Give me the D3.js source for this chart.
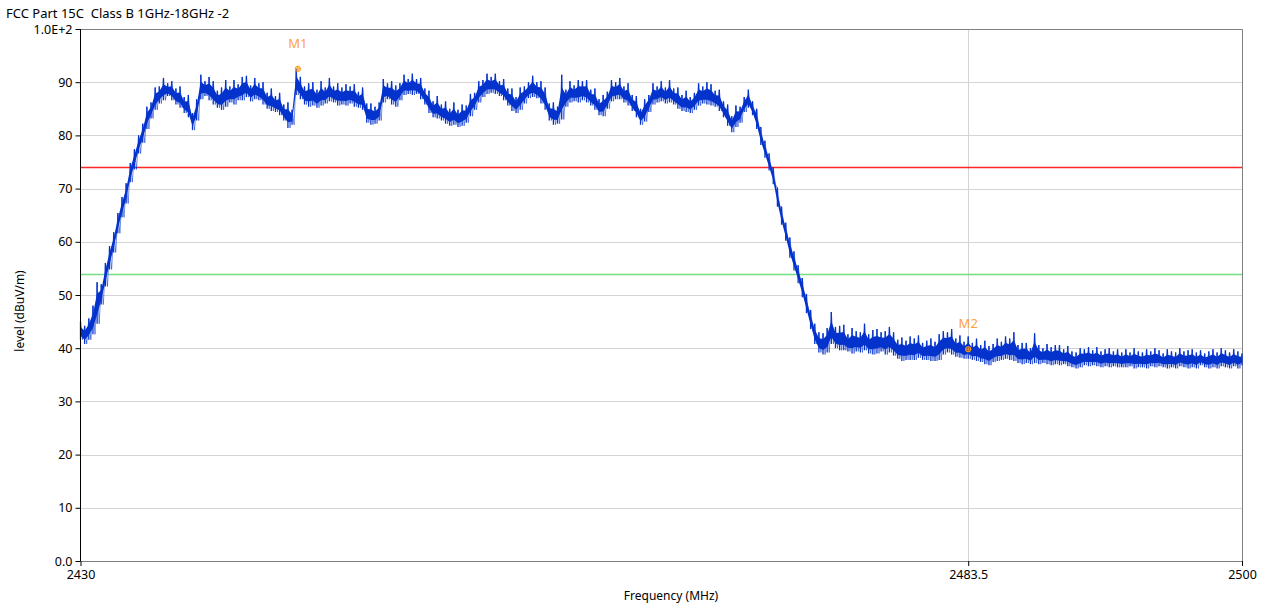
<!DOCTYPE html>
<html><head><meta charset="utf-8">
<script src="https://cdn.jsdelivr.net/npm/d3@7"></script>
<style>body{margin:0;background:#fff;}svg{display:block;font-family:"Noto Sans","DejaVu Sans",sans-serif;}</style>
</head><body><svg id="c" width="1263" height="605"></svg>
<script>
const title = "FCC Part 15C  Class B 1GHz-18GHz -2";
const xLabel = "Frequency (MHz)";
const yLabel = "level (dBuV/m)";
const freqStart = 2430, freqStop = 2500, binStep = 0.25;
const xTickValues = [2430, 2483.5, 2500];
const xTickLabels = ["2430", "2483.5", "2500"];
const yTickValues = [0,10,20,30,40,50,60,70,80,90,100];
const yTickLabels = ["0.0","10","20","30","40","50","60","70","80","90","1.0E+2"];
const limitValues = [74, 54];
const limitColors = ["#ff0000", "#5cd86c"];
const markerNames = ["M1", "M2"];
const markerFreqs = [2443.1, 2483.5];
const markerLevels = [92.5, 39.8];
// peak (max) per 0.25 MHz bin, one row per MHz
const levelMax = [
45.0,44.2,45.6,48.0, 52.4,52.0,56.0,59.2, 61.8,65.4,68.4,71.0, 74.8,77.4,80.0,82.2,
85.4,86.2,89.0,89.2, 90.8,89.8,90.2,88.8, 89.2,87.2,87.6,84.2, 86.8,91.4,90.2,91.0,
90.2,88.4,89.0,90.4, 89.2,90.4,89.6,91.0, 91.2,89.4,90.8,89.8, 90.0,88.0,88.8,87.4,
88.0,85.8,86.2,84.8, 92.5,91.0,89.2,89.8, 90.0,88.6,90.2,89.0, 90.8,89.2,89.8,89.0,
89.6,89.2,89.6,88.2, 89.0,86.0,86.0,85.4, 86.2,90.6,89.8,90.2, 89.4,89.8,91.4,90.6,
91.6,90.6,90.8,88.8, 88.4,86.4,87.4,85.8, 86.4,85.0,86.2,84.8, 85.8,85.6,87.8,88.0,
90.2,90.4,91.6,91.0, 91.6,90.2,90.6,88.8, 88.8,87.2,89.0,89.2, 90.0,91.2,90.0,90.2,
89.0,86.0,86.2,85.4, 91.4,88.6,90.2,89.4, 90.4,90.2,90.4,88.6, 88.8,86.8,87.6,88.2,
90.4,90.0,90.8,89.2, 89.8,87.6,87.4,85.0, 86.8,87.6,89.8,89.2, 90.2,89.0,90.4,88.8,
89.0,87.6,88.4,87.2, 88.0,89.8,89.2,90.0, 89.6,88.4,88.6,86.4, 85.8,83.6,85.6,85.4,
87.2,88.6,86.4,85.0, 81.6,79.0,76.6,74.0, 70.2,66.6,63.6,60.8, 58.2,55.6,53.2,50.2,
47.2,44.6,43.0,42.8, 43.8,46.8,44.0,44.2, 44.4,42.6,43.8,43.2, 43.0,44.6,42.6,43.4,
43.6,43.0,43.2,44.0, 43.0,41.6,42.0,41.4, 42.2,41.8,42.4,41.0, 41.4,41.8,41.2,42.6,
43.2,43.0,43.6,41.8, 42.4,41.2,42.2,41.0, 41.8,40.6,41.4,40.4, 40.8,41.8,41.2,42.2,
41.8,43.0,40.6,41.0, 41.0,40.0,42.8,40.6, 40.0,40.8,40.2,40.6, 40.6,39.8,40.4,39.4,
39.2,40.0,39.8,40.2, 39.6,40.2,39.4,39.8, 40.0,39.4,39.8,39.2, 39.8,39.2,40.0,39.4,
39.2,39.8,39.4,40.0, 39.6,39.0,39.8,39.4, 39.2,40.0,39.4,39.6, 39.8,39.2,39.6,39.0,
39.4,39.8,39.2,40.0, 39.6,39.2,39.8,39.4, 39.0
];
// minimum per 0.25 MHz bin
const levelMin = [
41.6,40.8,41.6,42.6, 44.6,48.2,51.6,54.8, 58.0,61.6,64.6,67.2, 71.2,73.6,76.6,78.6,
81.2,83.2,84.8,86.0, 86.6,87.4,86.6,85.8, 85.2,84.2,83.4,81.0, 82.8,86.8,87.4,86.6,
85.8,85.2,84.8,85.4, 86.2,85.8,86.6,86.6, 87.2,86.4,86.8,86.6, 85.8,85.0,84.6,84.4,
83.8,82.8,81.4,82.0, 87.6,86.8,85.8,85.4, 85.6,85.2,85.6,86.0, 86.4,86.2,85.6,85.8,
85.6,86.0,85.4,85.2, 84.8,82.4,82.0,82.2, 82.8,86.2,86.8,85.8, 85.4,86.6,87.6,87.8,
87.6,87.8,86.8,85.8, 84.2,83.4,83.2,82.8, 82.2,81.8,82.0,81.6, 81.8,82.4,83.6,84.8,
86.2,87.2,87.8,88.0, 87.8,87.4,86.6,85.6, 84.6,84.2,84.8,86.0, 87.0,87.2,87.0,86.0,
84.8,82.8,82.0,82.2, 83.0,85.4,86.2,86.4, 86.2,86.6,86.2,85.6, 84.8,83.8,83.6,85.0,
86.4,86.8,86.8,86.2, 85.6,84.6,83.4,82.0, 82.6,84.4,85.8,86.2, 86.4,86.0,86.2,85.8,
85.0,84.6,84.4,84.2, 84.8,85.6,86.0,85.8, 85.6,85.4,84.6,83.4, 81.8,80.6,81.6,82.4,
84.4,85.2,83.8,81.2, 78.2,75.8,73.4,70.8, 66.6,63.2,60.2,57.0, 54.6,52.2,49.6,46.6,
43.6,40.8,39.2,38.8, 39.2,40.8,40.0,39.6, 39.6,39.4,39.0,39.4, 39.2,39.6,39.0,38.8,
39.0,39.4,38.8,39.2, 38.6,38.0,37.6,37.8, 37.8,37.8,38.2,37.8, 37.8,37.6,37.6,37.8,
38.8,39.2,38.8,38.4, 38.2,38.0,38.0,37.8, 37.6,37.4,37.0,36.8, 37.4,37.6,37.8,38.0,
37.8,37.6,37.2,37.0, 37.2,37.0,37.2,37.0, 37.2,37.0,36.8,37.0, 36.8,37.0,36.6,36.4,
36.2,36.4,36.8,36.6, 36.8,36.6,36.4,36.6, 36.4,36.6,36.4,36.4, 36.4,36.6,36.2,36.4,
36.4,36.2,36.6,36.4, 36.6,36.4,36.2,36.4, 36.2,36.6,36.4,36.2, 36.4,36.2,36.8,36.4,
36.2,36.4,36.2,36.6, 36.4,36.2,36.6,36.2, 36.8
];

const svg = d3.select("#c");
const L = 80.5, R = 1242, T = 29, B = 561;
const x = d3.scaleLinear().domain([freqStart, freqStop]).range([L, R]);
const y = d3.scaleLinear().domain([0, 100]).range([B, T]);
const traceColor = "#0433cc";

svg.append("text").attr("x", 6).attr("y", 18).attr("font-size", 13).attr("fill", "#000")
  .style("white-space", "pre").text(title);

// grid
svg.append("g").selectAll("line").data(yTickValues.filter(v => v > 0 && v < 100)).join("line")
  .attr("x1", L).attr("x2", R).attr("y1", d => Math.round(y(d)) + 0.5).attr("y2", d => Math.round(y(d)) + 0.5)
  .attr("stroke", "#d4d4d4").attr("stroke-width", 1);
svg.append("line").attr("x1", Math.round(x(2483.5)) + 0.5).attr("x2", Math.round(x(2483.5)) + 0.5)
  .attr("y1", T).attr("y2", B).attr("stroke", "#d4d4d4");

// limit lines
svg.append("g").selectAll("line").data(limitValues).join("line")
  .attr("x1", L).attr("x2", R).attr("y1", d => Math.round(y(d)) + 0.5).attr("y2", d => Math.round(y(d)) + 0.5)
  .attr("stroke", (d, i) => limitColors[i]).attr("stroke-width", 1.4).attr("stroke-opacity", 0.85);

// frame
svg.append("path").attr("d", `M${L},${T+0.5}H${R+0.5}V${B+0.5}H${L}`).attr("fill", "none").attr("stroke", "#808080");

// trace: bins
const bins = levelMax.map((v, i) => ({f: freqStart + i * binStep, hi: v, lo: levelMin[i]}));
const tg = svg.append("g");
tg.append("path").datum(bins)
  .attr("d", d3.area().x(d => x(d.f)).y0(d => y(d.lo + (d.hi - d.lo) * 0.22)).y1(d => y(d.hi - (d.hi - d.lo) * 0.28)))
  .attr("fill", traceColor);
tg.selectAll("line").data(bins).join("line")
  .attr("x1", d => x(d.f)).attr("x2", d => x(d.f))
  .attr("y1", d => y(d.lo)).attr("y2", d => y(d.hi))
  .attr("stroke", traceColor).attr("stroke-width", 1.3);
const pts = [];
bins.forEach((d, i) => { pts.push([d.f, d.hi]); if (i < bins.length - 1) pts.push([d.f + binStep / 2, d.lo]); });
tg.append("path").datum(pts)
  .attr("d", d3.line().x(d => x(d[0])).y(d => y(d[1])))
  .attr("fill", "none").attr("stroke", traceColor).attr("stroke-width", 0.8).attr("stroke-opacity", 0.7);

// axes
const yAxis = d3.axisLeft(y).tickValues(yTickValues).tickFormat((d, i) => yTickLabels[i]).tickSize(5).tickPadding(3);
const gy = svg.append("g").attr("transform", `translate(${L},0)`).call(yAxis);
gy.select(".domain").attr("stroke", "#000").attr("d", `M0,${T}V${B}`);
gy.selectAll("text").attr("font-size", 12.5).attr("fill", "#000").attr("font-family", "'Noto Sans',sans-serif");
gy.selectAll(".tick line").attr("stroke", "#000");

const xAxis = d3.axisBottom(x).tickValues(xTickValues).tickFormat((d, i) => xTickLabels[i]).tickSize(5).tickPadding(4);
const gx = svg.append("g").attr("transform", `translate(0,${B})`).call(xAxis);
gx.select(".domain").remove();
gx.selectAll("text").attr("font-size", 12.5).attr("fill", "#000").attr("font-family", "'Noto Sans',sans-serif");
gx.selectAll(".tick line").attr("stroke", "#000");

svg.append("text").attr("x", 671).attr("y", 600).attr("text-anchor", "middle").attr("font-size", 12).attr("fill", "#000").text(xLabel);
svg.append("text").attr("transform", `translate(24,311) rotate(-90)`).attr("text-anchor", "middle").attr("font-size", 12).attr("fill", "#000").text(yLabel);

// markers
const mg = svg.append("g").selectAll("g").data(markerNames).join("g")
  .attr("transform", (d, i) => `translate(${x(markerFreqs[i])},${y(markerLevels[i])})`);
mg.append("circle").attr("r", 2.5).attr("fill", "none").attr("stroke", "#ff9a1a").attr("stroke-width", 1.2);
mg.append("path").attr("d", "M-2,0H2M0,-2V2").attr("stroke", "#ff9a1a").attr("stroke-width", 1);
mg.append("text").attr("y", -21).attr("text-anchor", "middle").attr("font-size", 13).attr("fill", "#ffa040").text(d => d);
</script></body></html>
